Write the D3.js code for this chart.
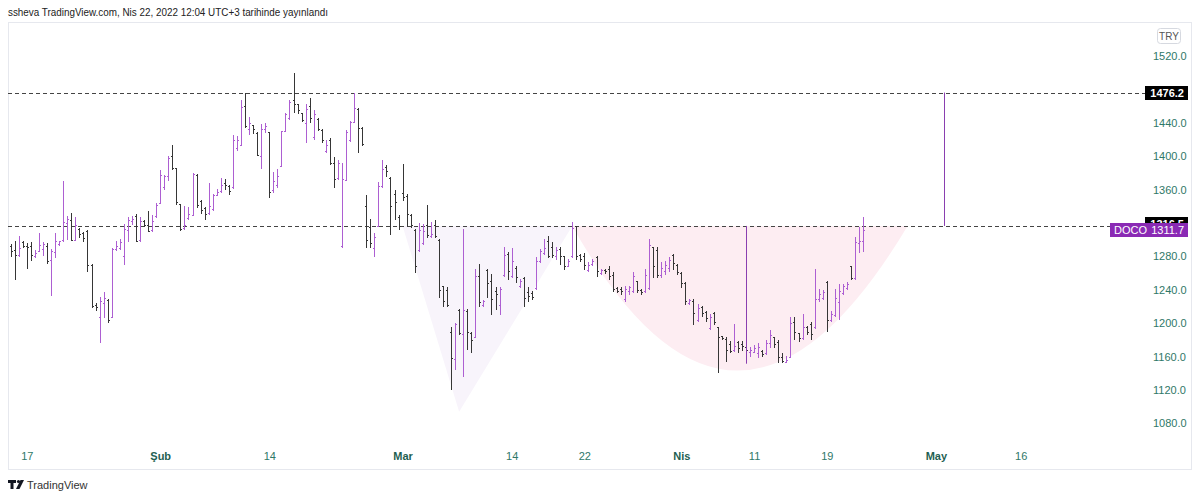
<!DOCTYPE html>
<html>
<head>
<meta charset="utf-8">
<script src="https://cdn.jsdelivr.net/npm/d3@7"></script>
<style>
body { margin: 0; background: #fff; }
svg { display: block; font-family: "Liberation Sans", Arial, sans-serif; }
.priceAx text { fill: #2f7868; font-size: 11px; }
.timeAx text { fill: #2f7868; font-size: 11px; }
.timeAx text.month { font-weight: bold; fill: #1f5f52; }
</style>
</head>
<body>
<svg id="chart"></svg>
<script>
// DATA : 3 BARS PER DAY, [open, high, low, close]
var ohlc = [
 [1292,1295,1281,1286],[1288,1299,1253,1282],[1282,1304,1281,1290],[1297,1298,1291,1293],[1293,1296,1266,1291],
 [1293,1297,1276,1282],[1280,1288,1279,1284],[1287,1308,1287,1294],[1289,1297,1282,1295],[1293,1296,1272,1274],
 [1276,1289,1234,1287],[1285,1308,1279,1299],[1295,1299,1294,1298],[1300,1370,1299,1321],[1320,1328,1301,1325],
 [1324,1332,1300,1300],[1300,1327,1300,1318],[1313,1314,1303,1307],[1308,1309,1299,1302],[1310,1312,1263,1270],
 [1270,1271,1219,1221],[1222,1224,1216,1220],[1208,1231,1177,1226],[1224,1237,1207,1230],[1228,1229,1201,1204],
 [1208,1290,1208,1289],[1289,1299,1288,1293],[1290,1301,1289,1297],[1280,1319,1271,1313],[1312,1327,1299,1324],
 [1322,1328,1319,1325],[1328,1331,1298,1299],[1300,1327,1299,1322],[1322,1324,1317,1318],[1318,1334,1310,1311],
 [1312,1330,1311,1322],[1328,1344,1327,1341],[1344,1383,1344,1378],[1363,1377,1361,1376],[1376,1400,1371,1398],
 [1400,1414,1385,1386],[1386,1386,1343,1345],[1343,1343,1312,1313],[1314,1340,1313,1318],[1326,1339,1325,1331],
 [1330,1380,1329,1379],[1378,1379,1339,1341],[1346,1348,1332,1336],[1338,1339,1325,1331],[1332,1368,1331,1340],
 [1337,1355,1336,1354],[1354,1361,1353,1357],[1358,1374,1357,1366],[1368,1373,1361,1365],[1364,1365,1355,1358],
 [1363,1425,1362,1419],[1410,1424,1408,1420],[1413,1467,1413,1459],[1460,1476,1435,1436],[1433,1447,1426,1440],
 [1437,1437,1428,1432],[1428,1429,1401,1402],[1400,1439,1386,1432],[1432,1440,1429,1436],[1429,1429,1351,1357],
 [1360,1381,1357,1370],[1365,1385,1363,1376],[1388,1430,1388,1430],[1430,1452,1430,1450],[1446,1467,1445,1465],
 [1467,1500,1453,1462],[1462,1462,1452,1455],[1452,1452,1442,1443],[1440,1463,1417,1457],[1460,1470,1441,1446],
 [1423,1455,1421,1451],[1444,1446,1431,1432],[1431,1432,1417,1420],[1406,1419,1405,1414],[1420,1422,1391,1392],
 [1392,1399,1363,1373],[1374,1395,1373,1392],[1293,1392,1291,1373],[1372,1431,1371,1429],[1420,1442,1418,1441],
 [1441,1476,1441,1458],[1456,1458,1405,1434],[1434,1435,1413,1415],[1340,1353,1291,1300],[1315,1325,1291,1296],
 [1290,1308,1281,1303],[1317,1369,1317,1364],[1364,1396,1363,1385],[1387,1390,1376,1382],[1374,1375,1307,1340],
 [1355,1359,1325,1345],[1327,1329,1313,1316],[1356,1391,1347,1351],[1352,1355,1317,1331],[1330,1331,1315,1318],
 [1312,1313,1261,1268],[1288,1320,1287,1312],[1296,1319,1295,1311],[1318,1341,1303,1306],[1304,1321,1303,1307],
 [1318,1323,1303,1305],[1300,1301,1231,1240],[1245,1245,1221,1226],[1240,1243,1221,1222],[1190,1195,1121,1158],
 [1157,1200,1145,1199],[1216,1217,1187,1188],[1187,1313,1137,1216],[1215,1217,1169,1190],[1188,1189,1165,1180],
 [1183,1265,1183,1256],[1256,1271,1221,1225],[1222,1228,1221,1227],[1264,1265,1231,1248],[1250,1259,1211,1229],
 [1238,1243,1217,1235],[1222,1243,1211,1241],[1258,1291,1257,1282],[1283,1285,1253,1262],[1256,1290,1255,1275],
 [1266,1268,1249,1255],[1244,1253,1243,1251],[1254,1255,1221,1230],[1237,1243,1227,1232],[1236,1239,1229,1231],
 [1242,1279,1241,1275],[1275,1289,1273,1286],[1284,1301,1283,1290],[1298,1305,1279,1281],[1291,1297,1279,1282],
 [1280,1291,1277,1288],[1289,1291,1271,1280],[1280,1281,1265,1268],[1269,1277,1268,1275],[1280,1321,1279,1314],
 [1316,1317,1277,1281],[1282,1283,1275,1277],[1280,1284,1265,1270],[1264,1273,1263,1270],[1271,1277,1270,1275],
 [1279,1281,1256,1262],[1260,1265,1259,1264],[1264,1265,1260,1262],[1265,1269,1253,1257],[1258,1261,1239,1241],
 [1242,1243,1237,1239],[1241,1243,1235,1238],[1229,1244,1227,1241],[1238,1245,1235,1243],[1238,1261,1237,1257],
 [1250,1251,1237,1240],[1240,1241,1235,1237],[1238,1265,1237,1258],[1242,1301,1241,1294],[1291,1291,1255,1268],
 [1288,1291,1255,1258],[1258,1273,1255,1266],[1262,1275,1259,1270],[1266,1279,1263,1276],[1282,1283,1265,1272],
 [1270,1271,1259,1261],[1260,1261,1243,1248],[1248,1249,1223,1226],[1224,1229,1223,1228],[1227,1229,1199,1212],
 [1204,1223,1203,1218],[1220,1221,1209,1212],[1214,1215,1203,1206],[1194,1211,1193,1208],[1212,1213,1199,1201],
 [1196,1196,1141,1183],[1185,1185,1181,1182],[1181,1183,1155,1168],[1175,1179,1165,1167],[1168,1199,1167,1173],
 [1177,1179,1165,1170],[1175,1179,1168,1173],[1172,1177,1163,1168],[1165,1172,1161,1168],[1166,1174,1165,1170],
 [1164,1176,1160,1172],[1167,1168,1161,1163],[1164,1180,1163,1176],[1176,1192,1172,1186],[1183,1184,1172,1175],
 [1178,1180,1153,1160],[1160,1164,1153,1155],[1154,1161,1153,1156],[1160,1207,1159,1200],[1202,1207,1181,1190],
 [1188,1188,1179,1182],[1182,1211,1181,1195],[1196,1197,1187,1190],[1199,1201,1181,1187],[1195,1265,1194,1229],
 [1229,1241,1227,1235],[1230,1240,1229,1237],[1249,1251,1191,1204],[1204,1215,1203,1211],[1210,1241,1209,1230],
 [1225,1247,1205,1238],[1236,1247,1235,1244],[1242,1249,1241,1247],[1268,1269,1253,1254],[1254,1303,1253,1297],
 [1296,1315,1285,1298],[1298,1327,1286,1311.7]
];

// AXIS TICKS
var priceTicks = [1520, 1440, 1400, 1360, 1280, 1240, 1200, 1160, 1120, 1080];
var timeTickIdx = [4, 37, 64, 97, 124, 142, 166, 184, 202, 229, 250];
var timeTickLabels = ["17", "Şub", "14", "Mar", "14", "22", "Nis", "11", "19", "May", "16"];
var monthLabels = ["Şub", "Mar", "Nis", "May"];

// DRAWINGS
var levels = [1476.2, 1316.5];
var triangle = [[97, 1316.5], [111, 1094], [139, 1316.5]];
var cup = {start: [139, 1316.5], ctrl: [179.3, 970], end: [222, 1316.5]};
var measureLines = [[182, 1316.5, 1151.5], [231, 1476.2, 1316.5]];
var lastPrice = 1311.7;

// SIZING
var width = 1200, height = 498;
var frame = {left: 8, top: 22, right: 1191, bottom: 469};
var upColor = "#ad5fd2", downColor = "#363636";

var svg = d3.select("#chart").attr("width", width).attr("height", height);
svg.append("rect").attr("width", width).attr("height", height).attr("fill", "#fff");

var x = d3.scaleLinear().domain([0, 250]).range([10.7, 10.7 + 250 * 4.04]);
var y = d3.scaleLinear().domain([1080, 1520]).range([423.4, 56]);
var px = function(v) { return Math.round(v) + 0.5; };

// HEADER
svg.append("text")
	.attr("x", 8).attr("y", 16)
	.attr("font-size", 11).attr("fill", "#222")
	.attr("textLength", 320).attr("lengthAdjust", "spacingAndGlyphs")
	.text("ssheva TradingView.com, Nis 22, 2022 12:04 UTC+3 tarihinde yayınlandı");

// FRAME
svg.append("rect")
	.attr("x", frame.left + 0.5).attr("y", frame.top + 0.5)
	.attr("width", frame.right - frame.left).attr("height", frame.bottom - frame.top)
	.attr("fill", "none").attr("stroke", "#e6e8ee");

// PATTERN SHAPES
svg.append("path")
	.attr("d", d3.line().x(function(d) { return x(d[0]); }).y(function(d) { return y(d[1]); })(triangle) + "Z")
	.attr("fill", "#f8f4fb");

var cupPath = d3.path();
cupPath.moveTo(x(cup.start[0]), y(cup.start[1]));
cupPath.quadraticCurveTo(x(cup.ctrl[0]), y(cup.ctrl[1]), x(cup.end[0]), y(cup.end[1]));
cupPath.closePath();
svg.append("path").attr("d", cupPath.toString()).attr("fill", "#fdedf2");

// HORIZONTAL LEVELS
svg.selectAll(".level")
	.data(levels)
	.enter().append("line")
	.attr("class", "level")
	.attr("x1", frame.left).attr("x2", 1145)
	.attr("y1", function(d) { return px(y(d)); })
	.attr("y2", function(d) { return px(y(d)); })
	.attr("stroke", "#444").attr("stroke-dasharray", "4,3");

// OHLC BARS
var bars = svg.selectAll(".bar")
	.data(ohlc)
	.enter().append("g")
	.attr("class", "bar")
	.attr("stroke", function(d) { return d[3] >= d[0] ? upColor : downColor; })
	.attr("stroke-width", 1);

bars.append("line")
	.attr("x1", function(d, i) { return px(x(i)); })
	.attr("x2", function(d, i) { return px(x(i)); })
	.attr("y1", function(d) { return Math.round(y(d[1])); })
	.attr("y2", function(d) { return Math.round(y(d[2])) + 1; });
bars.append("line")
	.attr("x1", function(d, i) { return px(x(i)) - 1.5; })
	.attr("x2", function(d, i) { return px(x(i)); })
	.attr("y1", function(d) { return px(y(d[0])); })
	.attr("y2", function(d) { return px(y(d[0])); });
bars.append("line")
	.attr("x1", function(d, i) { return px(x(i)); })
	.attr("x2", function(d, i) { return px(x(i)) + 1.5; })
	.attr("y1", function(d) { return px(y(d[3])); })
	.attr("y2", function(d) { return px(y(d[3])); });

// MEASURE LINES
svg.selectAll(".measure")
	.data(measureLines)
	.enter().append("line")
	.attr("class", "measure")
	.attr("x1", function(d) { return px(x(d[0])); })
	.attr("x2", function(d) { return px(x(d[0])); })
	.attr("y1", function(d) { return y(d[1]); })
	.attr("y2", function(d) { return y(d[2]); })
	.attr("stroke", "#8a3fb0").attr("stroke-width", 1);

// PRICE AXIS
var priceAx = svg.append("g")
	.attr("class", "priceAx")
	.attr("transform", "translate(1153,0)")
	.call(d3.axisRight(y).tickValues(priceTicks).tickSize(0).tickPadding(0).tickFormat(d3.format(".1f")));
priceAx.select(".domain").remove();
priceAx.selectAll("text").attr("font-family", null).attr("font-size", null);

// TIME AXIS
var timeAx = svg.append("g")
	.attr("class", "timeAx")
	.attr("transform", "translate(0,452)")
	.call(d3.axisBottom(x).tickValues(timeTickIdx).tickSize(0).tickPadding(0)
		.tickFormat(function(d, i) { return timeTickLabels[i]; }));
timeAx.select(".domain").remove();
timeAx.selectAll("text")
	.attr("font-family", null).attr("font-size", null)
	.classed("month", function(d, i) { return monthLabels.indexOf(timeTickLabels[i]) >= 0; });

// CURRENCY BOX
svg.append("rect").attr("x", 1157.5).attr("y", 28.5).attr("width", 23).attr("height", 15)
	.attr("rx", 3).attr("fill", "#fff").attr("stroke", "#d6d9e0");
svg.append("text").attr("x", 1169).attr("y", 40).attr("text-anchor", "middle")
	.attr("font-size", 10).attr("fill", "#555").text("TRY");

// PRICE LABELS (LOWER ONE HALF HIDDEN BEHIND THE SYMBOL LABEL)
var ly = Math.round(y(lastPrice));
svg.append("clipPath").attr("id", "levelClip")
	.append("rect").attr("x", 1140).attr("y", 0).attr("width", 60).attr("height", ly - 7);

levels.forEach(function(v, i) {
	var cy = Math.round(y(v)) - (i == 1 ? 2 : 0);
	var g = svg.append("g");
	if (i == 1) g.attr("clip-path", "url(#levelClip)");
	g.append("rect").attr("x", 1145).attr("y", cy - 7).attr("width", 43).attr("height", 14).attr("fill", "#000");
	g.append("text").attr("x", 1184).attr("y", cy + 4).attr("text-anchor", "end")
		.attr("font-size", 11).attr("font-weight", "bold").attr("fill", "#fff").text(d3.format(".1f")(v));
});

svg.append("rect").attr("x", 1110).attr("y", ly - 7).attr("width", 78).attr("height", 14).attr("fill", "#8a2ab4");
svg.append("text").attr("x", 1114).attr("y", ly + 4).attr("font-size", 11)
	.attr("fill", "#fff").text("DOCO");
svg.append("text").attr("x", 1184).attr("y", ly + 4).attr("text-anchor", "end").attr("font-size", 11)
	.attr("fill", "#fff").text(d3.format(".1f")(lastPrice));

// FOOTER LOGO
var logo = svg.append("g").attr("fill", "#131722");
logo.append("path").attr("d", "M8 480 H16 V483 H13.5 V489 H10.5 V483 H8 Z");
logo.append("circle").attr("cx", 18.5).attr("cy", 481.5).attr("r", 1.6);
logo.append("path").attr("d", "M20.5 480 H24 L19.5 489 H16 Z");
svg.append("text").attr("x", 27).attr("y", 488.5).attr("font-size", 11).attr("fill", "#333").text("TradingView");
</script>
</body>
</html>
